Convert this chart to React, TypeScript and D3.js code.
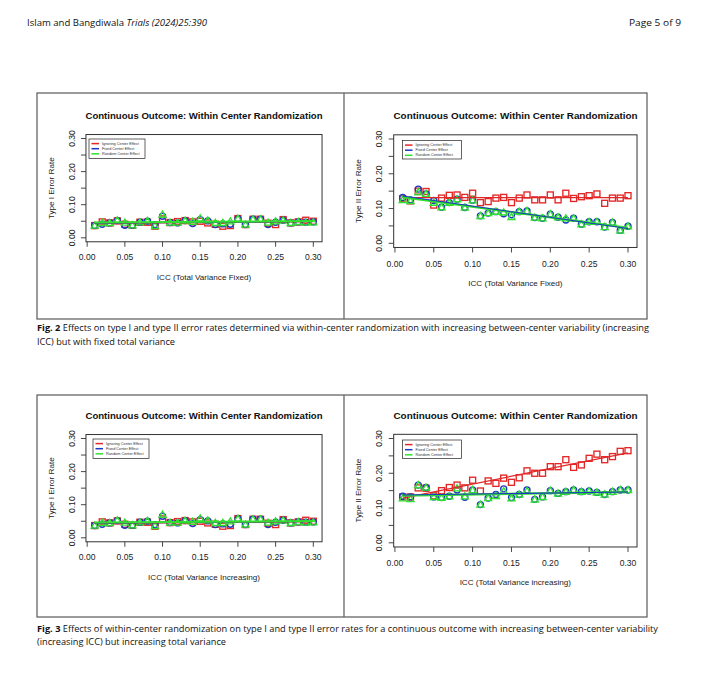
import React from "react";
import * as d3 from "d3";

// ---------- data ----------
const ICC = [0.01, 0.02, 0.03, 0.04, 0.05, 0.06, 0.07, 0.08, 0.09, 0.1, 0.11, 0.12, 0.13, 0.14, 0.15, 0.16, 0.17, 0.18, 0.19, 0.2, 0.21, 0.22, 0.23, 0.24, 0.25, 0.26, 0.27, 0.28, 0.29, 0.3];

const TYPE1_IGNORING = [0.037, 0.048, 0.045, 0.051, 0.041, 0.038, 0.047, 0.047, 0.035, 0.057, 0.046, 0.049, 0.052, 0.048, 0.05, 0.045, 0.041, 0.035, 0.037, 0.058, 0.04, 0.056, 0.056, 0.044, 0.04, 0.055, 0.045, 0.048, 0.053, 0.05];
const TYPE1_FIXED = [0.037, 0.041, 0.045, 0.052, 0.038, 0.038, 0.047, 0.05, 0.04, 0.065, 0.046, 0.045, 0.052, 0.043, 0.055, 0.051, 0.04, 0.042, 0.041, 0.057, 0.04, 0.056, 0.056, 0.04, 0.047, 0.053, 0.045, 0.048, 0.047, 0.048];
const TYPE1_RANDOM = [0.037, 0.045, 0.045, 0.053, 0.046, 0.038, 0.047, 0.051, 0.036, 0.07, 0.046, 0.046, 0.052, 0.049, 0.059, 0.053, 0.045, 0.045, 0.05, 0.058, 0.04, 0.056, 0.056, 0.046, 0.05, 0.053, 0.045, 0.048, 0.046, 0.047];

const TYPE2_FIXEDVAR_IGNORING = [0.128, 0.122, 0.15, 0.149, 0.11, 0.13, 0.138, 0.139, 0.132, 0.144, 0.117, 0.12, 0.13, 0.132, 0.117, 0.13, 0.139, 0.125, 0.125, 0.139, 0.125, 0.144, 0.129, 0.134, 0.137, 0.142, 0.115, 0.13, 0.13, 0.137];
const TYPE2_FIXEDVAR_FIXED = [0.132, 0.125, 0.156, 0.142, 0.123, 0.104, 0.117, 0.127, 0.103, 0.124, 0.079, 0.087, 0.091, 0.085, 0.082, 0.091, 0.093, 0.074, 0.072, 0.084, 0.075, 0.067, 0.072, 0.055, 0.062, 0.062, 0.047, 0.06, 0.037, 0.049];
const TYPE2_FIXEDVAR_RANDOM = [0.125, 0.122, 0.147, 0.142, 0.117, 0.104, 0.117, 0.127, 0.103, 0.124, 0.079, 0.087, 0.091, 0.089, 0.076, 0.091, 0.093, 0.074, 0.072, 0.084, 0.075, 0.072, 0.072, 0.055, 0.062, 0.062, 0.047, 0.06, 0.037, 0.049];

const TYPE2_INCVAR_IGNORING = [0.132, 0.132, 0.158, 0.157, 0.135, 0.15, 0.159, 0.166, 0.158, 0.18, 0.149, 0.178, 0.171, 0.186, 0.174, 0.187, 0.207, 0.2, 0.2, 0.219, 0.219, 0.239, 0.217, 0.224, 0.243, 0.255, 0.239, 0.248, 0.263, 0.265];
const TYPE2_INCVAR_FIXED = [0.134, 0.132, 0.166, 0.159, 0.132, 0.13, 0.134, 0.152, 0.131, 0.152, 0.11, 0.129, 0.139, 0.155, 0.13, 0.139, 0.152, 0.125, 0.132, 0.15, 0.142, 0.147, 0.152, 0.147, 0.149, 0.145, 0.139, 0.147, 0.152, 0.152];
const TYPE2_INCVAR_RANDOM = [0.128, 0.126, 0.166, 0.159, 0.132, 0.13, 0.134, 0.157, 0.134, 0.152, 0.11, 0.129, 0.135, 0.149, 0.128, 0.139, 0.149, 0.125, 0.132, 0.15, 0.142, 0.147, 0.152, 0.147, 0.149, 0.145, 0.139, 0.147, 0.152, 0.152];

const SERIES_NAMES = ["Ignoring Center Effect", "Fixed Center Effect", "Random Center Effect"];
const X_TICKS = [0, 0.05, 0.1, 0.15, 0.2, 0.25, 0.3];
const Y_TICKS = [0, 0.05, 0.1, 0.15, 0.2, 0.25, 0.3];
const Y_LABELED = [0, 0.1, 0.2, 0.3];
const PANEL_TITLE = "Continuous Outcome: Within Center Randomization";

// ---------- styles ----------
const COLORS = ["#e32626", "#1f35c4", "#2fe02f"];
const SHAPES = ["square", "circle", "triangle"];
const CHART_FONT = "'Liberation Sans', Arial, sans-serif";
const PAGE_FONT = "'Open Sans', 'Noto Sans', sans-serif";

type Geo = {
  dy: number;
  x0: number; x1: number; // pixel of 0.01 / 0.30
  y0: number; y1: number; // pixel of 0.00 / 0.30
  titleX: number; titleY: number; titleSize: number;
  tickLabelY: number; xTitleY: number;
  yTitleX: number; yTickLabelX: number;
  legX: number; legY: number; legW: number; legH: number;
  blueOnTop: boolean;
};

function fit(xs: number[], ys: number[]) {
  const mx = d3.mean(xs) as number;
  const my = d3.mean(ys) as number;
  let sxy = 0, sxx = 0;
  xs.forEach((x, i) => { sxy += (x - mx) * (ys[i] - my); sxx += (x - mx) * (x - mx); });
  const b = sxy / sxx;
  return { a: my - b * mx, b };
}

function Marker({ shape, x, y, color }: { shape: string; x: number; y: number; color: string }) {
  const s = 3;
  const common = { fill: "none", stroke: color, strokeWidth: 1.35 };
  if (shape === "square") return <rect x={x - s} y={y - s} width={2 * s} height={2 * s} {...common} />;
  if (shape === "circle") return <circle cx={x} cy={y} r={3} {...common} />;
  const h = 3.5;
  return <path d={`M${x},${y - h}L${x + h},${y + h * 0.75}L${x - h},${y + h * 0.75}Z`} {...common} />;
}

function Panel({ g, series, yTitle, xTitle }: { g: Geo; series: number[][]; yTitle: string; xTitle: string }) {
  const x = d3.scaleLinear().domain([0.01, 0.3]).range([g.x0, g.x1]);
  const y = d3.scaleLinear().domain([0, 0.3]).range([g.y0 + g.dy, g.y1 + g.dy]);
  const xPad = (0.3 - 0.01) * 0.04;
  const bl = x(0.01 - xPad), br = x(0.3 + xPad);
  const bt = y(0.3 + 0.012), bb = y(-0.012);
  const fits = series.map((s) => fit(ICC, s));
  const fitPath = (f: { a: number; b: number }) =>
    d3.line<number>().x((v) => x(v)).y((v) => y(f.a + f.b * v))([0.01, 0.3]) || "";
  const midY = (bt + bb) / 2;
  const lineOrder = g.blueOnTop ? [0, 2, 1] : [0, 1, 2];
  const lineWidth = (si: number) => (si === 0 ? 1.3 : g.blueOnTop ? (si === 2 ? 2.2 : 1.1) : (si === 2 ? 2 : 1.3));
  return (
    <g fontFamily={CHART_FONT}>
      <text x={g.titleX} y={g.titleY + g.dy} textAnchor="middle" fontWeight="bold" fontSize={g.titleSize} fill="#111">{PANEL_TITLE}</text>
      <rect x={bl} y={bt} width={br - bl} height={bb - bt} fill="none" stroke="#333" strokeWidth={1} />
      {Y_TICKS.map((t) => (
        <line key={"yt" + t} x1={bl} x2={bl - 5} y1={y(t)} y2={y(t)} stroke="#333" strokeWidth={0.9} />
      ))}
      {Y_LABELED.map((t) => (
        <text key={"yl" + t} transform={`translate(${g.yTickLabelX},${y(t)}) rotate(-90)`} textAnchor="middle" dominantBaseline="central" fontSize={8.6} fill="#222">{t.toFixed(2)}</text>
      ))}
      {X_TICKS.map((t) => (
        <g key={"xt" + t}>
          <line x1={x(t)} x2={x(t)} y1={bb} y2={bb + 5} stroke="#333" strokeWidth={0.9} />
          <text x={x(t)} y={g.tickLabelY + g.dy} textAnchor="middle" dominantBaseline="central" fontSize={8.6} fill="#222">{t.toFixed(2)}</text>
        </g>
      ))}
      <text x={(bl + br) / 2} y={g.xTitleY + g.dy} textAnchor="middle" dominantBaseline="central" fontSize={8.1} fill="#222">{xTitle}</text>
      <text transform={`translate(${g.yTitleX},${midY}) rotate(-90)`} textAnchor="middle" dominantBaseline="central" fontSize={8.1} fill="#222">{yTitle}</text>
      {series.map((s, si) => (
        <g key={"pts" + si}>
          {s.map((v, i) => <Marker key={i} shape={SHAPES[si]} x={x(ICC[i])} y={y(v)} color={COLORS[si]} />)}
        </g>
      ))}
      {lineOrder.map((si) => (
        <path key={"fit" + si} d={fitPath(fits[si])} stroke={COLORS[si]} strokeWidth={lineWidth(si)} fill="none" />
      ))}
      <g>
        <rect x={g.legX} y={g.legY + g.dy} width={g.legW} height={g.legH} fill="white" stroke="#222" strokeWidth={0.7} />
        {SERIES_NAMES.map((n, i) => {
          const ry = g.legY + g.dy + 4.6 + i * 5.1;
          return (
            <g key={n}>
              <line x1={g.legX + 2.5} x2={g.legX + 10} y1={ry} y2={ry} stroke={COLORS[i]} strokeWidth={1.5} />
              <text x={g.legX + 13} y={ry} dominantBaseline="central" fontSize={3.8} fill="#333">{n}</text>
            </g>
          );
        })}
      </g>
    </g>
  );
}

const G1: Geo = { dy: 0, x0: 94.7, x1: 313.3, y0: 237.8, y1: 138.5, titleX: 204, titleY: 118.5, titleSize: 9.6, tickLabelY: 256.7, xTitleY: 277.7, yTitleX: 51.7, yTickLabelX: 72, legX: 89, legY: 139, legW: 56, legH: 19.5, blueOnTop: false };
const G2: Geo = { dy: 0, x0: 402.7, x1: 628, y0: 243.3, y1: 139, titleX: 515.5, titleY: 119, titleSize: 9.9, tickLabelY: 263.5, xTitleY: 283.3, yTitleX: 358, yTickLabelX: 379, legX: 402.5, legY: 140.5, legW: 59, legH: 18.5, blueOnTop: true };
const G3: Geo = { ...G1, dy: 300, legX: 93 };
const G4: Geo = { ...G2, dy: 299.5 };

export default function App() {
  return (
    <svg width={711} height={683} style={{ position: "absolute", left: 0, top: 0, background: "white" }}>
      <rect x={0} y={0} width={711} height={683} fill="white" />
      {/* page header */}
      <text x={27} y={25.5} fontFamily={PAGE_FONT} fontSize={9.4} fill="#111" textLength={180} lengthAdjust="spacingAndGlyphs">
        Islam and Bangdiwala <tspan fontStyle="italic">Trials (2024)25:390</tspan>
      </text>
      <text x={681} y={25.5} textAnchor="end" fontFamily={PAGE_FONT} fontSize={9.4} fill="#111" textLength={52} lengthAdjust="spacingAndGlyphs">Page 5 of 9</text>

      {/* figure 2 frame */}
      <rect x={37} y={93} width={610} height={226} fill="none" stroke="#666" strokeWidth={1.3} />
      <line x1={344} x2={344} y1={93} y2={319} stroke="#666" strokeWidth={1.3} />
      <Panel g={G1} series={[TYPE1_IGNORING, TYPE1_FIXED, TYPE1_RANDOM]} yTitle="Type I Error Rate" xTitle="ICC (Total Variance Fixed)" />
      <Panel g={G2} series={[TYPE2_FIXEDVAR_IGNORING, TYPE2_FIXEDVAR_FIXED, TYPE2_FIXEDVAR_RANDOM]} yTitle="Type II Error Rate" xTitle="ICC (Total Variance Fixed)" />
      <text x={37} y={331} fontFamily={PAGE_FONT} fontSize={8.8} fill="#111" textLength={612} lengthAdjust="spacingAndGlyphs">
        <tspan fontWeight="bold">Fig. 2</tspan>{"  Effects on type I and type II error rates determined via within-center randomization with increasing between-center variability (increasing"}
      </text>
      <text x={37} y={345} fontFamily={PAGE_FONT} fontSize={8.8} fill="#111" textLength={138} lengthAdjust="spacingAndGlyphs">ICC) but with fixed total variance</text>

      {/* figure 3 frame */}
      <rect x={37} y={395} width={610} height={222} fill="none" stroke="#666" strokeWidth={1.3} />
      <line x1={344} x2={344} y1={395} y2={617} stroke="#666" strokeWidth={1.3} />
      <Panel g={G3} series={[TYPE1_IGNORING, TYPE1_FIXED, TYPE1_RANDOM]} yTitle="Type I Error Rate" xTitle="ICC (Total Variance Increasing)" />
      <Panel g={G4} series={[TYPE2_INCVAR_IGNORING, TYPE2_INCVAR_FIXED, TYPE2_INCVAR_RANDOM]} yTitle="Type II Error Rate" xTitle="ICC (Total Variance increasing)" />
      <text x={37} y={632} fontFamily={PAGE_FONT} fontSize={8.8} fill="#111" textLength={621} lengthAdjust="spacingAndGlyphs">
        <tspan fontWeight="bold">Fig. 3</tspan>{"  Effects of within-center randomization on type I and type II error rates for a continuous outcome with increasing between-center variability"}
      </text>
      <text x={37} y={645} fontFamily={PAGE_FONT} fontSize={8.8} fill="#111" textLength={189} lengthAdjust="spacingAndGlyphs">(increasing ICC) but increasing total variance</text>
    </svg>
  );
}
